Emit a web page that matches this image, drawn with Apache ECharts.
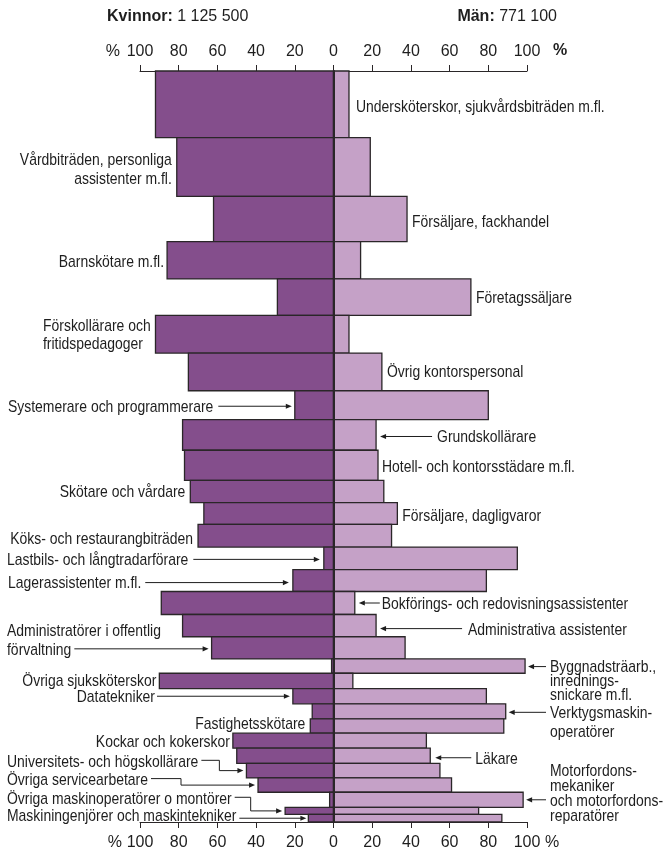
<!DOCTYPE html>
<html><head><meta charset="utf-8">
<script src="https://cdn.jsdelivr.net/npm/echarts@6/dist/echarts.min.js"></script>
<style>html,body{margin:0;padding:0;background:#fff}#c{width:666px;height:850px}</style>
</head><body><div id="c"></div>
<script>
// ---- data ----
const occupations = [
  'Undersköterskor, sjukvårdsbiträden m.fl.',
  'Vårdbiträden, personliga\nassistenter m.fl.',
  'Försäljare, fackhandel',
  'Barnskötare m.fl.',
  'Företagssäljare',
  'Förskollärare och\nfritidspedagoger',
  'Övrig kontorspersonal',
  'Systemerare och programmerare',
  'Grundskollärare',
  'Hotell- och kontorsstädare m.fl.',
  'Skötare och vårdare',
  'Försäljare, dagligvaror',
  'Köks- och restaurangbiträden',
  'Lastbils- och långtradarförare',
  'Lagerassistenter m.fl.',
  'Bokförings- och redovisningsassistenter',
  'Administrativa assistenter',
  'Administratörer i offentlig\nförvaltning',
  'Byggnadsträarb.,\ninrednings-\nsnickare m.fl.',
  'Övriga sjuksköterskor',
  'Datatekniker',
  'Verktygsmaskin-\noperatörer',
  'Fastighetsskötare',
  'Kockar och kokerskor',
  'Läkare',
  'Universitets- och högskollärare',
  'Övriga servicearbetare',
  'Motorfordons-\nmekaniker\noch motorfordons-\nreparatörer',
  'Övriga maskinoperatörer o montörer',
  'Maskiningenjörer och maskintekniker'
];
// number employed, thousands (bar thickness)
const employed = [168,148,114,94,92,95,95,73,77,76,56,55,57,57,55,58,56,56,36,39,38,38,36,38,38,37,36,38,18,19];
// share women / men, %
const womenPct = [92,81,62,86,29,92,75,20,78,77,74,67,70,5,21,89,78,63,1,90,21,11,12,52,50,45,39,2,25,13];
const menPct   = [8,19,38,14,71,8,25,80,22,23,26,33,30,95,79,11,22,37,99,10,79,89,88,48,50,55,61,98,75,87];
const totalWomen = '1 125 500';
const totalMen = '771 100';

// ---- derived ----
const starts = [];
let acc = 0;
employed.forEach(v => { starts.push(acc); acc += v; });
const total = acc;

// ---- style ----
const FAM = '"Liberation Sans", Arial, Helvetica, sans-serif';
const LSIZE = 17, SX = 0.82, YOFF = 1.2;
const WOMEN = '#844e8c', MEN = '#c5a1c7', EDGE = '#2a2628', TXT = '#1e1e1e';
const FONT = LSIZE + 'px ' + FAM;
const mctx = document.createElement('canvas').getContext('2d');
function textW(s){ mctx.font = FONT; return mctx.measureText(s).width * SX; }

// label layout (pixel offsets only)
const layout = [
  {side:'R', gap:7, dy:1.5},
  {side:'L', gap:5, dy:2, lh:19},
  {side:'R', gap:5, dy:2},
  {side:'L', gap:3, dy:1},
  {side:'R', gap:5, dy:0},
  {side:'L', fixX:43, align:'left', dy:0, lh:17.3},
  {side:'R', gap:5, dy:-0.5},
  {side:'L', fixX:8, align:'left', dy:1, arrow:{tailGap:5, tipGap:3}},
  {side:'R', dy:1.5, rarrow:{len:52, tipGap:4, textGap:5}},
  {side:'R', gap:4, dy:0.5},
  {side:'L', gap:5, dy:-0.5},
  {side:'R', gap:5, dy:2},
  {side:'L', gap:5, dy:2},
  {side:'L', fixX:7, align:'left', dy:1, arrow:{tailGap:5, tipGap:4}},
  {side:'L', fixX:8, align:'left', dy:2, arrow:{tailGap:4, tipGap:4}},
  {side:'R', dy:0, rarrow:{len:21, tipGap:4, textGap:2}},
  {side:'R', dy:3, rarrow:{len:82, tipGap:4, textGap:6}},
  {side:'L', fixX:7, align:'left', dy:1, lh:19, line:1, arrow:{tailGap:3, tipGap:3}},
  {side:'R', fixX:550, dy:0.5, lh:13.7, line:0, farrow:{tipGap:3}},
  {side:'L', gap:3, dy:-0.5},
  {side:'L', fixX:155, align:'right', dy:0, arrow:{tailGap:2, tipGap:3}},
  {side:'R', fixX:550, dy:1, lh:19, line:0, farrow:{tipGap:3}},
  {side:'L', gap:5, dy:-3},
  {side:'L', gap:3, dy:0.5},
  {side:'R', dy:2, rarrow:{len:36, tipGap:5, textGap:4}},
  {side:'L', fixX:7, align:'left', dy:-9.3, elbow:{knee:21, tipGap:3}},
  {side:'L', fixX:7, align:'left', dy:-5.5, elbow:{knee:33, tipGap:3}},
  {side:'R', fixX:550, dy:0, lh:15, line:2, farrow:{tipGap:3}},
  {side:'L', fixX:7, align:'left', dy:-12.6, elbow:{knee:19, tipGap:3}},
  {side:'L', fixX:7, align:'left', dy:-3, arrowDy:0, arrow:{tailGap:3, tipGap:2}}
];

function head(x, y, dir){
  return {type:'polygon', shape:{points:[[x,y],[x-dir*6,y-2.6],[x-dir*6,y+2.6]]}, style:{fill:TXT}};
}
function seg(points){
  return {type:'polyline', shape:{points}, style:{stroke:TXT, lineWidth:1, fill:null}};
}

function renderBar(params, api){
  const i = params.dataIndex;
  const y0 = starts[i], y1 = starts[i] + employed[i];
  const a = api.coord([-womenPct[i], y0]);
  const b = api.coord([0, y1]);
  const c = api.coord([menPct[i], y1]);
  return {type:'group', children:[
    {type:'rect', shape:{x:a[0], y:a[1], width:b[0]-a[0], height:b[1]-a[1]}, style:{fill:WOMEN, stroke:EDGE, lineWidth:1.3}},
    {type:'rect', shape:{x:b[0], y:a[1], width:c[0]-b[0], height:b[1]-a[1]}, style:{fill:MEN, stroke:EDGE, lineWidth:1.3}}
  ]};
}

function renderLabel(params, api){
  const i = params.dataIndex, L = layout[i];
  const y0 = starts[i], y1 = y0 + employed[i];
  const mid = api.coord([0, (y0 + y1) / 2])[1];
  const leftEnd = api.coord([-womenPct[i], y0])[0];
  const rightEnd = api.coord([menPct[i], y0])[0];
  const text = occupations[i];
  const lines = text.split('\n');
  const lh = L.lh || 16;
  const line = L.line != null ? L.line : (lines.length - 1) / 2;
  const ty = mid + (L.dy || 0);
  const top = ty - (line + 0.5) * lh + YOFF;
  const anchorLine = lines[L.line != null ? L.line : 0];
  const ch = [];
  let tx, align = 'left';
  if (L.side === 'L') {
    if (L.fixX != null) { tx = L.fixX; align = L.align; }
    else { tx = leftEnd - L.gap; align = 'right'; }
    const textEnd = align === 'left' ? tx + textW(anchorLine) : tx;
    if (L.arrow) {
      const ay = mid + (L.arrowDy != null ? L.arrowDy : (L.dy || 0));
      const tip = leftEnd - L.arrow.tipGap;
      ch.push(seg([[textEnd + L.arrow.tailGap, ay], [tip - 5, ay]]));
      ch.push(head(tip, ay, 1));
    }
    if (L.elbow) {
      const tip = leftEnd - L.elbow.tipGap;
      const sy = ty - 1, kx = textEnd + L.elbow.knee;
      ch.push(seg([[textEnd + 3, sy], [kx, sy], [kx, mid], [tip - 5, mid]]));
      ch.push(head(tip, mid, 1));
    }
  } else {
    if (L.fixX != null) {
      tx = L.fixX;
      const tip = rightEnd + L.farrow.tipGap;
      ch.push(seg([[tx - 4, ty], [tip + 5, ty]]));
      ch.push(head(tip, ty, -1));
    } else if (L.rarrow) {
      const tip = rightEnd + L.rarrow.tipGap, tail = tip + L.rarrow.len;
      tx = tail + L.rarrow.textGap;
      ch.push(seg([[tail, ty], [tip + 5, ty]]));
      ch.push(head(tip, ty, -1));
    } else {
      tx = rightEnd + L.gap;
    }
  }
  ch.push({type:'text', x:tx, y:top, scaleX:SX, scaleY:1,
    style:{text, x:0, y:0, align, verticalAlign:'top', lineHeight:lh, font:FONT, fill:TXT}});
  return {type:'group', children:ch};
}

const chart = echarts.init(document.getElementById('c'), null, {renderer:'canvas'});
const xCommon = {
  type:'value', min:-100, max:100, interval:20, gridIndex:0,
  axisLine:{show:true, onZero:false, lineStyle:{color:EDGE, width:1}},
  axisTick:{show:true, length:6, lineStyle:{color:EDGE, width:1}},
  splitLine:{show:false},
  axisLabel:{fontSize:16, fontFamily:FAM, color:TXT, formatter:v => String(Math.abs(v))}
};
const tStyle = (extra) => Object.assign({fontFamily:FAM, fill:TXT, verticalAlign:'middle'}, extra);
chart.setOption({
  animation:false,
  backgroundColor:'#fff',
  grid:{left:140, right:139, top:71, bottom:28, containLabel:false, outerBoundsMode:'none'},
  xAxis:[
    Object.assign({}, xCommon, {position:'top', axisLabel:Object.assign({}, xCommon.axisLabel, {margin:11})}),
    Object.assign({}, xCommon, {position:'bottom', axisLabel:Object.assign({}, xCommon.axisLabel, {margin:13})})
  ],
  yAxis:{type:'value', inverse:true, min:0, max:total, z:10,
    axisLine:{show:true, onZero:true, lineStyle:{color:EDGE, width:2}},
    axisTick:{show:false}, axisLabel:{show:false}, splitLine:{show:false}},
  graphic:[
    {type:'text', x:107, y:17, style:tStyle({text:'{b|Kvinnor:} ' + totalWomen, rich:{b:{fontWeight:'bold', fontSize:16, fontFamily:FAM, fill:TXT}}, fontSize:16, align:'left'})},
    {type:'text', x:557, y:17, style:tStyle({text:'{b|Män:} ' + totalMen, rich:{b:{fontWeight:'bold', fontSize:16, fontFamily:FAM, fill:TXT}}, fontSize:16, align:'right'})},
    {type:'text', x:120, y:52, style:tStyle({text:'%', fontSize:16, align:'right'})},
    {type:'text', x:553, y:51, style:tStyle({text:'%', fontSize:16, fontWeight:'bold', align:'left'})},
    {type:'text', x:122, y:843, style:tStyle({text:'%', fontSize:16, align:'right'})},
    {type:'text', x:545, y:843, style:tStyle({text:'%', fontSize:16, align:'left'})}
  ],
  series:[
    {type:'custom', name:'bars', xAxisIndex:0, yAxisIndex:0, renderItem:renderBar,
      data:occupations.map((_, i) => [i]), clip:false, z:2},
    {type:'custom', name:'labels', xAxisIndex:0, yAxisIndex:0, renderItem:renderLabel,
      data:occupations.map((_, i) => [i]), clip:false, z:5, silent:true}
  ]
});
</script></body></html>
